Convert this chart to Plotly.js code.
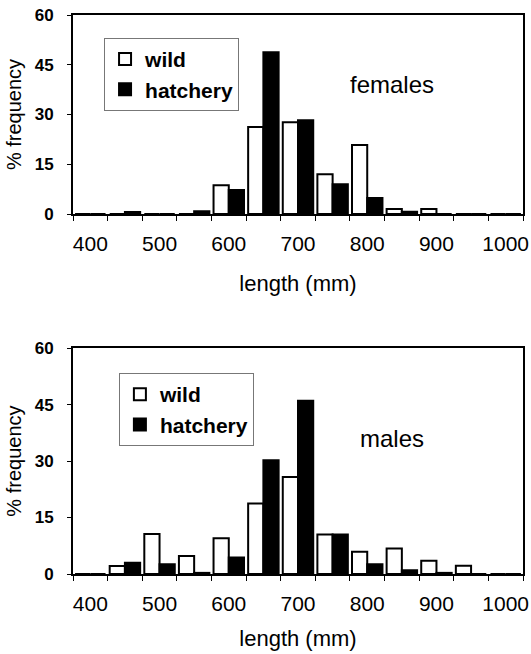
<!DOCTYPE html>
<html>
<head>
<meta charset="utf-8">
<script src="https://cdn.plot.ly/plotly-3.0.1.min.js"></script>
<style>html,body{margin:0;padding:0;background:#fff;}#chart{width:531px;height:654px;}</style>
</head>
<body>
<div id="chart"></div>
<script>
// Length bins (mm)
const lengths = [400, 450, 500, 550, 600, 650, 700, 750, 800, 850, 900, 950, 1000];
// % frequency, females
const femaleWild     = [0, 0, 0, 0, 8.7, 26.2, 27.7, 12.0, 20.8, 1.5, 1.5, 0, 0];
const femaleHatchery = [0, 0.6, 0, 0.8, 7.2, 48.8, 28.3, 9.0, 4.8, 0.7, 0, 0, 0];
// % frequency, males
const maleWild       = [0, 2.1, 10.6, 4.8, 9.5, 18.7, 25.8, 10.5, 5.9, 6.8, 3.5, 2.2, 0];
const maleHatchery   = [0, 3.0, 2.6, 0.3, 4.4, 30.2, 46.0, 10.5, 2.6, 1.0, 0.3, 0, 0];
const xTickVals = [400, 500, 600, 700, 800, 900, 1000];
const yTickVals = [0, 15, 30, 45, 60];
const seriesNames = ['wild', 'hatchery'];
const panelLabels = ['females', 'males'];

const FONT = 'Liberation Sans, Arial, sans-serif';
const lineStyle = {color: '#000', width: 2};

function bar(y, name, fill, xa, ya, legend, group) {
  return {
    type: 'bar', x: lengths, y: y, name: name, xaxis: xa, yaxis: ya,
    legend: legend, legendgroup: group + legend,
    marker: {color: fill, line: lineStyle},
    hoverinfo: 'skip'
  };
}

const data = [
  bar(femaleWild, seriesNames[0], '#fff', 'x', 'y', 'legend', 'w'),
  bar(femaleHatchery, seriesNames[1], '#000', 'x', 'y', 'legend', 'h'),
  bar(maleWild, seriesNames[0], '#fff', 'x2', 'y2', 'legend2', 'w'),
  bar(maleHatchery, seriesNames[1], '#000', 'x2', 'y2', 'legend2', 'h')
];

function xaxis(anchor, titleStandoff) {
  return {
    anchor: anchor, domain: [0, 1], range: [375, 1025],
    tickvals: xTickVals, ticks: '', showgrid: false, zeroline: false,
    showline: true, linecolor: '#000', linewidth: 2, mirror: true,
    tickfont: {family: FONT, size: 21, color: '#000'},
    ticklabelstandoff: 10,
    minor: {ticks: 'outside', tick0: 375, dtick: 50, ticklen: 5, tickcolor: '#000', tickwidth: 1, showgrid: false},
    title: {text: 'length (mm)', font: {family: FONT, size: 22, color: '#000'}, standoff: titleStandoff}
  };
}
function yaxis(anchor, domain) {
  return {
    anchor: anchor, domain: domain, range: [0, 60],
    tickvals: yTickVals, ticks: 'outside', ticklen: 4, tickcolor: '#000',
    showgrid: false, zeroline: false,
    showline: true, linecolor: '#000', linewidth: 2, mirror: true,
    ticklabelstandoff: 10,
    tickfont: {family: FONT, size: 17, color: '#000', weight: 'bold'},
    title: {text: '% frequency', font: {family: FONT, size: 20, color: '#000'}, standoff: 8}
  };
}

const legendBase = {
  font: {family: FONT, size: 21, color: '#000', weight: 'bold'},
  bgcolor: '#fff', bordercolor: '#777', borderwidth: 1,
  xanchor: 'left', yanchor: 'top', tracegroupgap: 0,
  itemclick: false, itemdoubleclick: false
};

const layout = {
  width: 531, height: 654,
  margin: {l: 73, r: 8, t: 15, b: 80},
  paper_bgcolor: '#fff', plot_bgcolor: '#fff',
  font: {family: FONT, color: '#000'},
  barmode: 'group', bargap: 0.12, bargroupgap: 0,
  showlegend: true,
  xaxis: xaxis('y', 21),
  yaxis: yaxis('x', [0.644, 1]),
  xaxis2: xaxis('y2', 16),
  yaxis2: yaxis('x2', [0, 0.404]),
  legend: Object.assign({x: 0.069, y: 0.959}, legendBase),
  legend2: Object.assign({x: 0.102, y: 0.3596}, legendBase),
  annotations: [
    {text: panelLabels[0], xref: 'paper', yref: 'paper', x: 0.709, y: 0.875, showarrow: false,
     xanchor: 'center', yanchor: 'middle', font: {family: FONT, size: 24, color: '#000'}},
    {text: panelLabels[1], xref: 'paper', yref: 'paper', x: 0.709, y: 0.243, showarrow: false,
     xanchor: 'center', yanchor: 'middle', font: {family: FONT, size: 24, color: '#000'}}
  ]
};

Plotly.newPlot('chart', data, layout, {displayModeBar: false, staticPlot: true});
</script>
</body>
</html>
